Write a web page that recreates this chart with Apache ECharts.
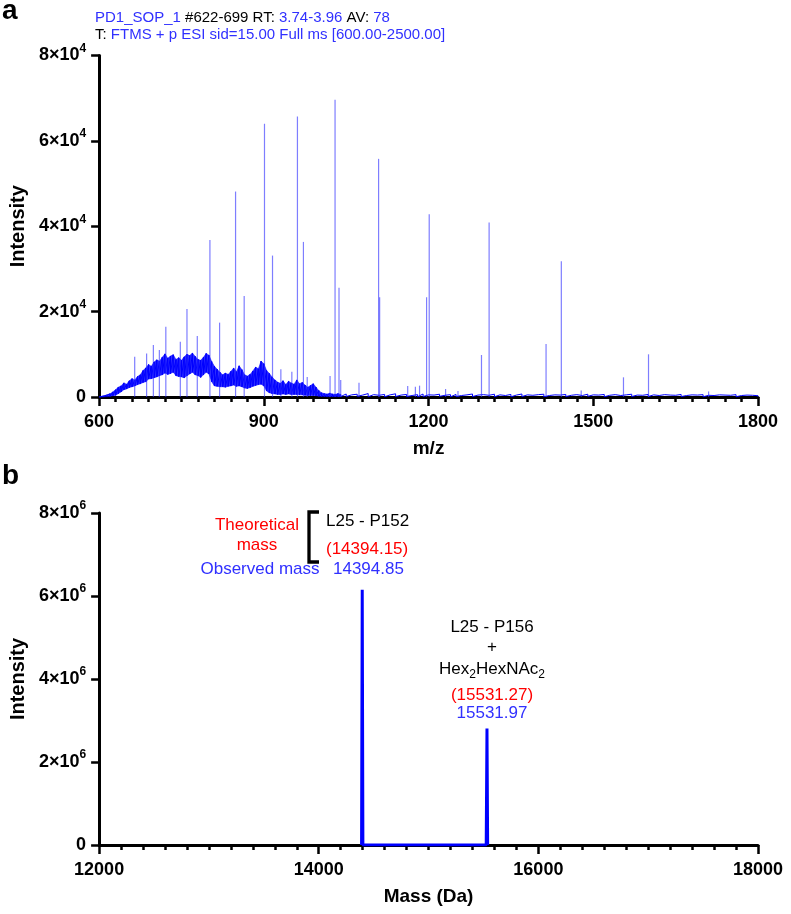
<!DOCTYPE html>
<html><head><meta charset="utf-8">
<script src="https://cdn.jsdelivr.net/npm/echarts/dist/echarts.min.js"></script>
<style>html,body{margin:0;padding:0;background:#fff}#c{width:791px;height:914px}</style>
</head><body><div id="c"></div><script>
// ---------- Panel a data ----------
const xTicksA = [600, 900, 1200, 1500, 1800];
const yTicksA = [0, 20000, 40000, 60000, 80000];
const yExpA = 4;
const peakMz = [664.8, 686.5, 698.8, 709.7, 721.5, 747.9, 760.0, 778.8, 801.8, 819.4, 848.5, 864.2, 901.2, 915.8, 931, 951, 961.2, 972.1, 979, 1020.6, 1029.7, 1036.9, 1040, 1073.3, 1109.0, 1110.9, 1162, 1176, 1183.6, 1196.4, 1201.2, 1231, 1253.6, 1296.4, 1310.3, 1414, 1441.8, 1478, 1555, 1600.6, 1710];
const peakInt = [9450, 10200, 12190, 11000, 16480, 12960, 20630, 14300, 36800, 17420, 48130, 23670, 63990, 33130, 6490, 5900, 65700, 36330, 4700, 4920, 69620, 25620, 4000, 3360, 55790, 23370, 2580, 2400, 2660, 23370, 42820, 1880, 1400, 9840, 40860, 12420, 31800, 1500, 4610, 10000, 1300];
const bandMz = [600,605,610,615,620,625,630,635,640,645,
  650,655,660,665,670,675,680,685,690,695,
  700,705,710,715,720,725,730,735,740,745,
  750,755,760,765,770,775,780,785,790,795,
  800,805,810,815,820,825,830,835,840,845,
  850,855,860,865,870,875,880,885,890,895,
  900,905,910,915,920,925,930,935,940,945,
  950,955,960,965,970,975,980,985,990,995,
  1000,1005,1010,1015,1020,1025,1030,1035,1040];
const bandHigh = [0,150,300,500,750,1200,1700,2300,2600,3300,
  3000,3800,4300,4000,4800,5200,6200,6800,7600,7200,
  8200,8700,8400,9300,10100,9100,9600,9900,8800,9200,
  8600,9400,10000,9700,10300,9500,8800,8600,9300,10200,
  9800,8300,7200,6500,5800,5200,5600,5300,6000,6800,
  5900,7300,6400,5200,4900,5300,6100,7000,6600,8400,
  7800,6200,5500,4700,4000,3500,3200,3800,2900,3700,
  3300,3000,4000,3100,3400,2800,2300,2700,3100,2300,
  1500,1000,800,700,900,700,600,800,600];
const bandLow = [0,0,50,100,150,300,400,800,1200,1700,
  1900,2200,2400,2600,2900,3100,3400,3600,4200,4300,
  4500,4700,5000,5200,5600,5300,5500,5800,5000,4800,
  4700,4500,5000,5400,5800,5200,5000,4600,5200,5800,
  5400,3600,2600,2500,2400,2400,2300,2500,2600,2800,
  2500,2600,2400,2100,2000,2200,2500,2700,2900,3000,
  2600,1400,1000,800,700,600,600,700,600,700,
  600,600,600,500,500,400,350,350,350,300,
  200,150,150,100,100,100,100,100,100];
const baseMz = [1050,1060,1070,1080,1090,1100,1110,1120,1130,1140,
  1150,1160,1170,1180,1190,1200,1210,1220,1230,1240,
  1250,1260,1270,1280,1290,1300,1310,1320,1330,1340,
  1350,1360,1370,1380,1390,1400,1410,1420,1430,1440,
  1450,1460,1470,1480,1490,1500,1510,1520,1530,1540,
  1550,1560,1570,1580,1590,1600,1610,1620,1630,1640,
  1650,1660,1670,1680,1690,1700,1710,1720,1730,1740,
  1750,1760,1770,1780,1790,1800];
const baseHigh = [700,500,650,450,800,550,400,600,500,750,
  450,600,350,550,700,500,450,650,400,550,
  600,350,500,700,450,550,400,650,500,350,
  600,450,700,500,400,550,650,350,500,450,
  600,400,550,350,650,500,450,600,400,550,
  350,500,650,450,400,600,500,350,550,450,
  400,600,350,500,450,550,400,350,500,450,
  400,550,350,450,400,300];
const baseLow = [100,50,150,100,50,100,150,50,100,100,
  50,100,150,50,100,100,50,150,100,50,
  100,50,150,100,50,100,100,50,150,100,
  50,100,100,150,50,100,50,100,150,50,
  100,50,100,100,150,50,100,50,100,150,
  50,100,100,50,150,100,50,100,100,50,
  150,100,50,100,100,50,150,100,50,100,
  100,50,100,150,50,100];

// ---------- Panel b data ----------
const xTicksB = [12000, 14000, 16000, 18000];
const yTicksB = [0, 2000000, 4000000, 6000000, 8000000];
const yExpB = 6;
const massDa = [14390, 14396, 14402, 15525, 15532, 15538];
const massInt = [0, 6150000, 0, 0, 2810000, 0];

// ---------- build ----------
const F = 'Liberation Sans, Arial, Helvetica, sans-serif';
const zig = [];
for (let i = 0; i < bandMz.length; i++) { zig.push([bandMz[i], bandHigh[i]]); zig.push([bandMz[i], bandLow[i]]); }
for (let i = 0; i < baseMz.length; i++) { zig.push([baseMz[i], baseHigh[i]]); zig.push([baseMz[i], baseLow[i]]); }
const quads = [];
for (let i = 0; i < bandMz.length - 1; i++) {
  quads.push([bandMz[i], bandHigh[i], bandLow[i], bandMz[i + 1], bandHigh[i + 1], bandLow[i + 1]]);
}
const peaks = peakMz.map((m, i) => [m, peakInt[i]]);
const mass = massDa.map((m, i) => [m, massInt[i]]);

function yFmt(exp) {
  return v => v === 0 ? '{n|0}' : '{n|' + Math.round(v / Math.pow(10, exp)) + '×10}{s|' + exp + '}';
}
const rich = {
  n: {fontSize: 18, fontWeight: 'bold', fontFamily: F, color: '#000', lineHeight: 26, verticalAlign: 'middle'},
  s: {fontSize: 12, fontWeight: 'bold', fontFamily: F, color: '#000', lineHeight: 12, verticalAlign: 'top'}
};
const axLine = {show: true, onZero: false, lineStyle: {color: '#000', width: 3}};
function xAxisCfg(grid, ticks, name, gap) {
  return {
    type: 'value', gridIndex: grid, min: ticks[0], max: ticks[ticks.length - 1], interval: ticks[1] - ticks[0],
    name: name, nameLocation: 'middle', nameGap: gap,
    nameTextStyle: {fontFamily: F, fontWeight: 'bold', fontSize: 19, color: '#000'},
    axisLine: axLine,
    axisTick: {show: true, length: 9, lineStyle: {color: '#000', width: 2.5}},
    minorTick: {show: true, splitNumber: 10, length: 5, lineStyle: {color: '#000', width: 2.5}},
    splitLine: {show: false}, minorSplitLine: {show: false},
    axisLabel: {fontFamily: F, fontWeight: 'bold', fontSize: 18, color: '#000', margin: 16, formatter: v => String(v)}
  };
}
function yAxisCfg(grid, ticks, exp) {
  return {
    type: 'value', gridIndex: grid, min: ticks[0], max: ticks[ticks.length - 1], interval: ticks[1] - ticks[0],
    name: 'Intensity', nameLocation: 'middle', nameGap: 64, nameRotate: 90,
    nameTextStyle: {fontFamily: F, fontWeight: 'bold', fontSize: 20, color: '#000'},
    axisLine: axLine,
    axisTick: {show: true, length: 8, lineStyle: {color: '#000', width: 2.5}},
    splitLine: {show: false},
    axisLabel: {margin: 13, formatter: yFmt(exp), rich: rich}
  };
}

const chart = echarts.init(document.getElementById('c'), null, {renderer: 'canvas'});
const blueT = '#3030ff';
chart.setOption({
  animation: false,
  backgroundColor: '#fff',
  grid: [
    {left: 98, right: 33, top: 55.5, height: 341.5},
    {left: 98, right: 33, top: 513, height: 332}
  ],
  xAxis: [xAxisCfg(0, xTicksA, 'm/z', 42), xAxisCfg(1, xTicksB, 'Mass (Da)', 42)],
  yAxis: [yAxisCfg(0, yTicksA, yExpA), yAxisCfg(1, yTicksB, yExpB)],
  series: [
    {type: 'custom', xAxisIndex: 0, yAxisIndex: 0, data: quads, silent: true, z: 2,
      encode: {x: [0, 3], y: [1, 2, 4, 5]},
      renderItem: function (params, api) {
        const a = api.coord([api.value(0), api.value(1)]);
        const b = api.coord([api.value(3), api.value(4)]);
        const c = api.coord([api.value(3), api.value(5)]);
        const d = api.coord([api.value(0), api.value(2)]);
        return {type: 'polygon', shape: {points: [a, b, c, d]}, style: {fill: 'rgba(0,0,255,0.82)', stroke: 'rgba(0,0,255,0.82)', lineWidth: 0.6}};
      }},
    {type: 'line', xAxisIndex: 0, yAxisIndex: 0, data: zig, symbol: 'none', lineStyle: {color: '#0000ff', width: 1}, silent: true, z: 3},
    {type: 'bar', xAxisIndex: 0, yAxisIndex: 0, data: peaks, barWidth: 1.2, itemStyle: {color: 'rgba(40,40,255,0.6)'}, silent: true, z: 4},
    {type: 'line', xAxisIndex: 1, yAxisIndex: 1, data: mass, symbol: 'none', lineStyle: {color: '#0000ff', width: 3}, silent: true, z: 3}
  ],
  graphic: [
    {type: 'text', x: 2, y: 11, style: {text: 'a', font: 'bold 28px ' + F, fill: '#000', verticalAlign: 'middle'}},
    {type: 'text', x: 2, y: 476, style: {text: 'b', font: 'bold 28px ' + F, fill: '#000', verticalAlign: 'middle'}},
    {type: 'text', x: 95, y: 18, style: {text: '{b|PD1_SOP_1 }{k|#622-699 RT: }{b|3.74-3.96 }{k|AV: }{b|78}', font: '15px ' + F, verticalAlign: 'middle',
      rich: {b: {fill: blueT, font: '15px ' + F}, k: {fill: '#000', font: '15px ' + F}}}},
    {type: 'text', x: 95, y: 35, style: {text: '{k|T: }{b|FTMS + p ESI sid=15.00 Full ms [600.00-2500.00]}', font: '15px ' + F, verticalAlign: 'middle',
      rich: {b: {fill: blueT, font: '15px ' + F}, k: {fill: '#000', font: '15px ' + F}}}},
    {type: 'text', x: 257, y: 525, style: {text: 'Theoretical', font: '17px ' + F, fill: '#ff0000', align: 'center', verticalAlign: 'middle'}},
    {type: 'text', x: 257, y: 545, style: {text: 'mass', font: '17px ' + F, fill: '#ff0000', align: 'center', verticalAlign: 'middle'}},
    {type: 'polyline', shape: {points: [[319, 512], [309, 512], [309, 562], [319, 562]]}, style: {stroke: '#000', lineWidth: 3.3, fill: null}},
    {type: 'text', x: 326, y: 521, style: {text: 'L25 - P152', font: '17px ' + F, fill: '#000', verticalAlign: 'middle'}},
    {type: 'text', x: 326, y: 549, style: {text: '(14394.15)', font: '17px ' + F, fill: '#ff0000', verticalAlign: 'middle'}},
    {type: 'text', x: 260, y: 569, style: {text: 'Observed mass', font: '17px ' + F, fill: blueT, align: 'center', verticalAlign: 'middle'}},
    {type: 'text', x: 333, y: 569, style: {text: '14394.85', font: '17px ' + F, fill: blueT, verticalAlign: 'middle'}},
    {type: 'text', x: 492, y: 627, style: {text: 'L25 - P156', font: '17px ' + F, fill: '#000', align: 'center', verticalAlign: 'middle'}},
    {type: 'text', x: 492, y: 647, style: {text: '+', font: '17px ' + F, fill: '#000', align: 'center', verticalAlign: 'middle'}},
    {type: 'text', x: 492, y: 669, style: {text: '{t|Hex}{u|2}{t|HexNAc}{u|2}', font: '17px ' + F, fill: '#000', align: 'center', verticalAlign: 'middle',
      rich: {t: {font: '17px ' + F, fill: '#000', lineHeight: 24, verticalAlign: 'middle'}, u: {font: '12px ' + F, fill: '#000', lineHeight: 12, verticalAlign: 'bottom'}}}},
    {type: 'text', x: 492, y: 695, style: {text: '(15531.27)', font: '17px ' + F, fill: '#ff0000', align: 'center', verticalAlign: 'middle'}},
    {type: 'text', x: 492, y: 713, style: {text: '15531.97', font: '17px ' + F, fill: blueT, align: 'center', verticalAlign: 'middle'}}
  ]
});
</script></body></html>
